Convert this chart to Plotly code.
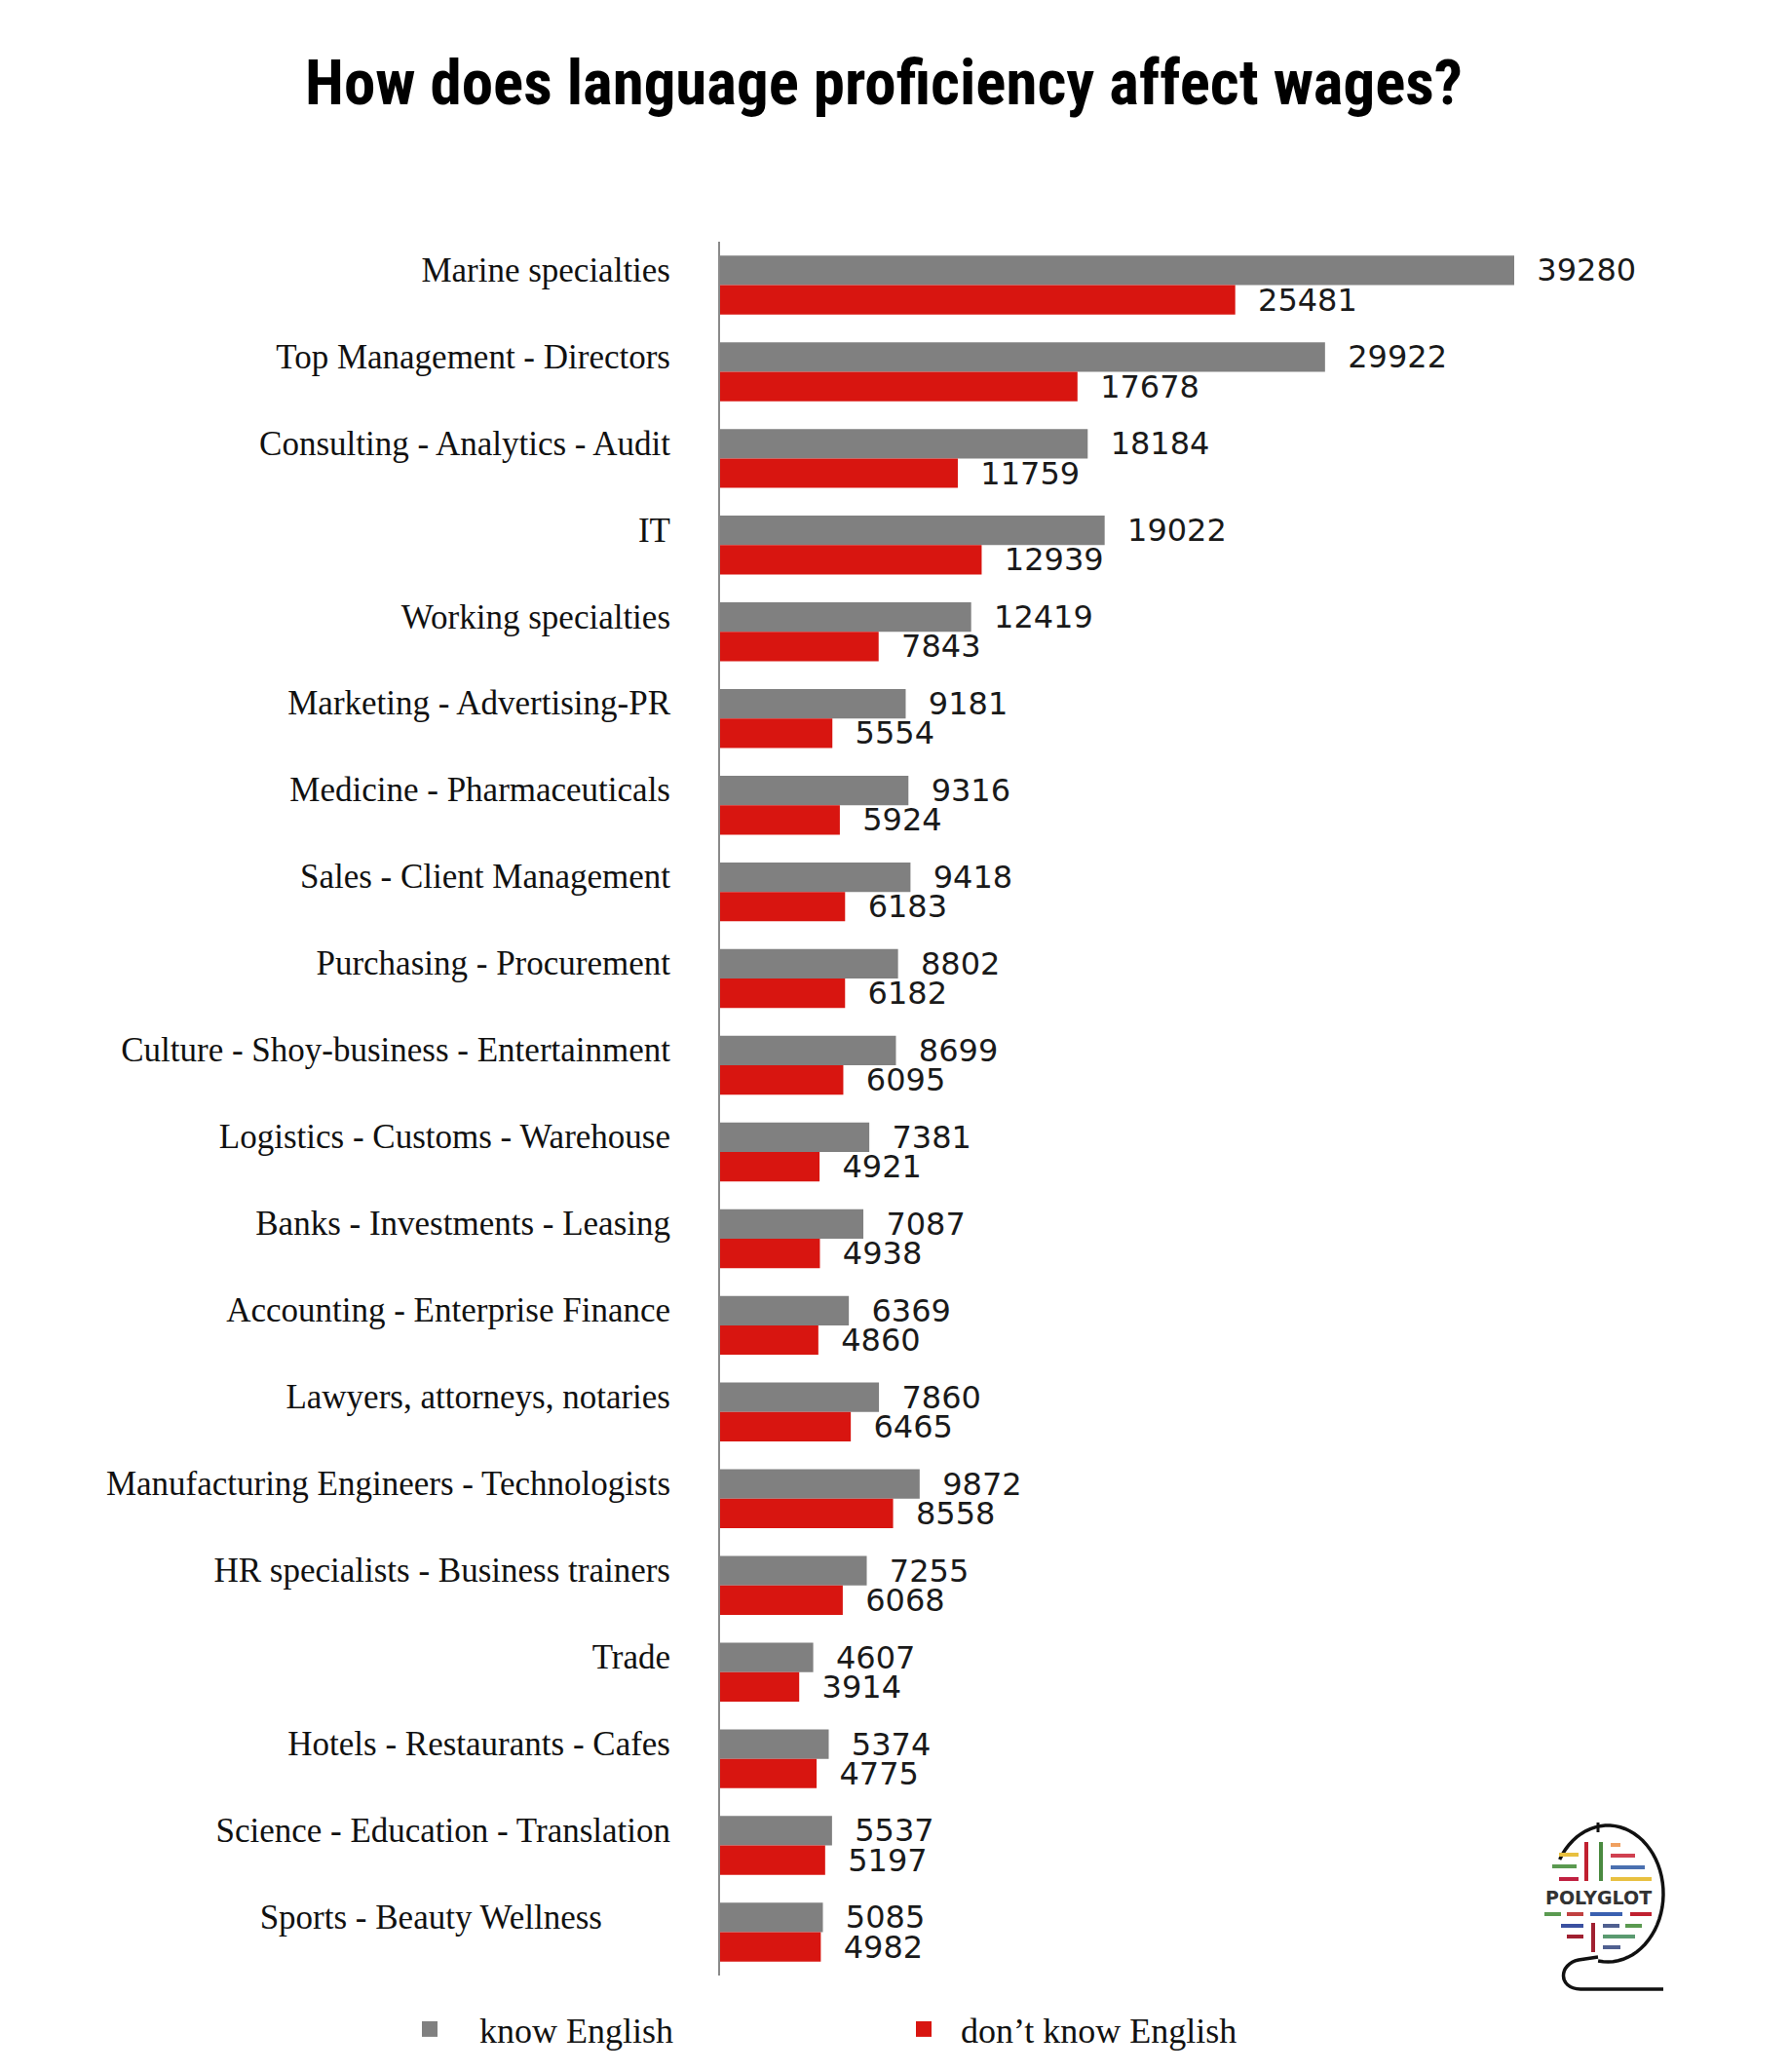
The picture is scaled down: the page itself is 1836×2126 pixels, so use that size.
import math
import plotly.graph_objects as go

categories = [
    "Marine specialties", "Top Management - Directors", "Consulting - Analytics - Audit",
    "IT", "Working specialties", "Marketing - Advertising-PR", "Medicine - Pharmaceuticals",
    "Sales - Client Management", "Purchasing - Procurement",
    "Culture - Shoy-business - Entertainment", "Logistics - Customs - Warehouse",
    "Banks - Investments - Leasing", "Accounting - Enterprise Finance",
    "Lawyers, attorneys, notaries", "Manufacturing Engineers - Technologists",
    "HR specialists - Business trainers", "Trade", "Hotels - Restaurants - Cafes",
    "Science - Education - Translation", "Sports - Beauty Wellness",
]
know_english = [39280, 29922, 18184, 19022, 12419, 9181, 9316, 9418, 8802, 8699,
                7381, 7087, 6369, 7860, 9872, 7255, 4607, 5374, 5537, 5085]
dont_know_english = [25481, 17678, 11759, 12939, 7843, 5554, 5924, 6183, 6182, 6095,
                     4921, 4938, 4860, 6465, 8558, 6068, 3914, 4775, 5197, 4982]
series_names = ["know English", "don\u2019t know English"]

# page body has an 8px margin; the figure is laid out relative to it
OFF = 8
W, H = 1836 - OFF, 2126 - OFF
L, T = 739 - OFF, 248 - OFF
R, B = W - (1736 - OFF), H - (2027 - OFF)
PW, PH = W - L - R, H - T - B

GREY = "#808080"
RED = "#d81510"
val_font = dict(family="DejaVu Sans", size=32, color="#1a1a1a")

# tick labels (last one sits further left in the original)
tick_labels = categories[:-1] + [categories[-1] + "\u00a0" * 8]

fig = go.Figure()
fig.add_trace(go.Bar(
    y=categories, x=know_english, orientation="h", name=series_names[0],
    marker=dict(color=GREY, line=dict(width=0)), showlegend=False,
    text=[str(v) for v in know_english], texttemplate="\u00a0\u00a0%{text}",
    textposition="outside", textfont=val_font, cliponaxis=False, constraintext="none",
))
fig.add_trace(go.Bar(
    y=categories, x=dont_know_english, orientation="h", name=series_names[1],
    marker=dict(color=RED, line=dict(width=0)), showlegend=False,
    text=[str(v) for v in dont_know_english], texttemplate="\u00a0\u00a0%{text}",
    textposition="outside", textfont=val_font, cliponaxis=False, constraintext="none",
))
# legend entries with square swatches (one legend box per series)
for name, col, lg in zip(series_names, [GREY, RED], ["legend", "legend2"]):
    fig.add_trace(go.Scatter(
        x=[None], y=[None], mode="markers", name=name, legend=lg,
        marker=dict(symbol="square", size=16, color=col), showlegend=True,
    ))


def px(x):
    return (x - OFF - L) / PW


def py(y):
    return (H + OFF - B - y) / PH


shapes = []
# globe ring: open arc from upper-left, clockwise round to the bottom
cx, cy, rx, ry = 1650, 1943, 57, 70
pts = []
n = 48
a0, a1 = math.radians(150), math.radians(-100)
for i in range(n + 1):
    a = a0 + (a1 - a0) * i / n
    pts.append((px(cx + rx * math.cos(a)), py(cy - ry * math.sin(a))))
ring = "M " + " L ".join(f"{x},{y}" for x, y in pts)
shapes.append(dict(type="path", xref="paper", yref="paper", path=ring,
                   line=dict(color="#111", width=3.5)))
# top pin
shapes.append(dict(type="line", xref="paper", yref="paper",
                   x0=px(1640), x1=px(1640), y0=py(1870), y1=py(1880),
                   line=dict(color="#111", width=3)))
# stand
shapes.append(dict(type="path", xref="paper", yref="paper",
                   path=(f"M {px(1640)},{py(2008)} L {px(1620)},{py(2011)} "
                         f"C {px(1600)},{py(2015)} {px(1598)},{py(2040)} {px(1622)},{py(2041)} "
                         f"L {px(1707)},{py(2041)}"),
                   line=dict(color="#111", width=3.5)))
# coloured stripes
stripes = [
    (1600, 1620, 1903, "#e8c040"), (1653, 1663, 1893, "#f0a060"), (1653, 1678, 1904, "#d04050"),
    (1593, 1618, 1915, "#5a9a50"), (1653, 1688, 1916, "#4a70b0"),
    (1600, 1620, 1928, "#c02040"), (1653, 1695, 1928, "#e8c040"),
    (1585, 1602, 1964, "#5a9a50"), (1608, 1625, 1964, "#c04040"),
    (1632, 1665, 1964, "#3a60b0"), (1673, 1695, 1964, "#c02030"),
    (1602, 1625, 1976, "#3a50a0"), (1645, 1662, 1976, "#506090"), (1668, 1685, 1976, "#5a9a50"),
    (1608, 1625, 1987, "#a02030"), (1645, 1678, 1987, "#5a9a70"),
    (1645, 1663, 1998, "#506090"),
]
for x0, x1, y, c in stripes:
    shapes.append(dict(type="line", xref="paper", yref="paper",
                       x0=px(x0), x1=px(x1), y0=py(y), y1=py(y),
                       line=dict(color=c, width=4)))
for x, y0, y1, c in [(1628, 1890, 1930, "#c02030"), (1643, 1890, 1930, "#4a8a40"),
                     (1635, 1973, 2003, "#a02030")]:
    shapes.append(dict(type="line", xref="paper", yref="paper",
                       x0=px(x), x1=px(x), y0=py(y0), y1=py(y1),
                       line=dict(color=c, width=4)))

annotations = [dict(text="<b>POLYGLOT</b>", xref="paper", yref="paper",
                    x=px(1640), y=py(1947), xanchor="center", yanchor="middle",
                    showarrow=False,
                    font=dict(family="DejaVu Sans", size=19, color="#333"))]

legend_font = dict(family="Liberation Serif", size=36, color="#111")
legend_common = dict(orientation="h", xref="container", yref="container",
                     xanchor="left", y=1 - (2082 - OFF) / H, yanchor="middle",
                     font=legend_font, bgcolor="rgba(0,0,0,0)")

fig.update_layout(
    width=W, height=H, autosize=False,
    margin=dict(l=L, r=R, t=T, b=B),
    paper_bgcolor="white", plot_bgcolor="white",
    barmode="group", bargap=0.32, bargroupgap=0,
    title=dict(text="<b>How does language proficiency affect wages?</b>",
               x=(907 - OFF) / W, xanchor="center", y=1 - (84 - OFF) / H,
               yanchor="middle", yref="container",
               font=dict(family="Liberation Sans Narrow, Roboto Condensed, Arial Narrow, sans-serif",
                         size=65, color="#000")),
    xaxis=dict(range=[0, PW / ((1554 - 739) / 39280)], visible=False,
               showgrid=False, zeroline=False),
    yaxis=dict(categoryorder="array", categoryarray=categories, autorange="reversed",
               tickmode="array", tickvals=categories, ticktext=tick_labels,
               showline=True, linecolor="#8a8a8a", linewidth=2, ticks="",
               ticklabelstandoff=42, ticklabelshift=16,
               tickfont=dict(family="Liberation Serif", size=35, color="#111"),
               showgrid=False, zeroline=False),
    legend=dict(x=(390 - OFF) / W, itemwidth=92, **legend_common),
    legend2=dict(x=(910 - OFF) / W, itemwidth=66, **legend_common),
    shapes=shapes, annotations=annotations,
)

fig.write_html("out.html")
